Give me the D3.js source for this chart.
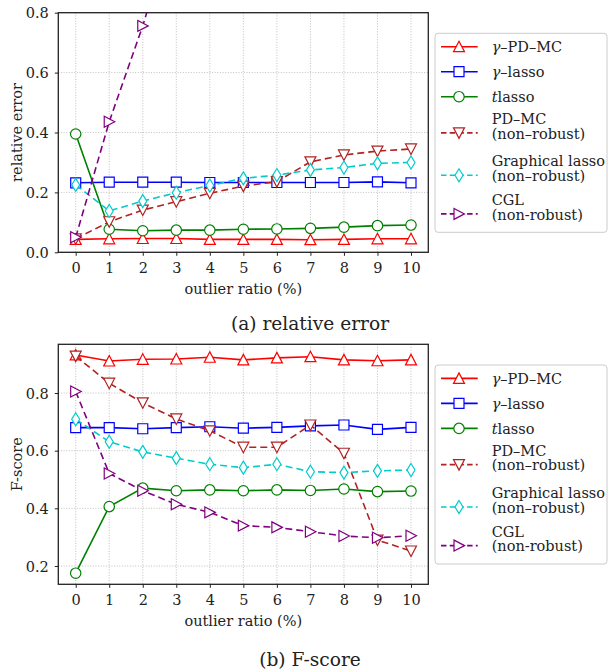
<!DOCTYPE html>
<html>
<head>
<meta charset="utf-8">
<script src="https://cdn.jsdelivr.net/npm/d3@7"></script>
<style>
  body { margin: 0; background: #fff; }
  text { font-family: "DejaVu Serif", serif; fill: #222; }
</style>
</head>
<body>
<svg id="chart" width="610" height="672"></svg>
<script>
// x categories: outlier ratio (%)
var ratios = [0, 1, 2, 3, 4, 5, 6, 7, 8, 9, 10];

// (a) relative error
var errGammaPDMC = [0.043, 0.045, 0.046, 0.046, 0.043, 0.043, 0.043, 0.042, 0.043, 0.045, 0.045];
var errGammaLasso = [0.232, 0.234, 0.234, 0.234, 0.233, 0.233, 0.233, 0.233, 0.233, 0.235, 0.232];
var errTlasso = [0.395, 0.077, 0.072, 0.074, 0.074, 0.077, 0.078, 0.080, 0.084, 0.089, 0.091];
var errPDMC = [0.045, 0.102, 0.141, 0.169, 0.197, 0.221, 0.236, 0.302, 0.325, 0.338, 0.345];
var errGlasso = [0.225, 0.138, 0.171, 0.199, 0.223, 0.247, 0.258, 0.275, 0.283, 0.297, 0.300];
// CGL runs off the top of the axes after 2 %
var errCGL = [0.050, 0.436, 0.756, 1.13, null, null, null, null, null, null, null];

// (b) F-score
var fGammaPDMC = [0.932, 0.911, 0.917, 0.918, 0.924, 0.915, 0.922, 0.926, 0.915, 0.912, 0.915];
var fGammaLasso = [0.680, 0.680, 0.676, 0.680, 0.683, 0.678, 0.681, 0.686, 0.689, 0.674, 0.681];
var fTlasso = [0.175, 0.406, 0.470, 0.461, 0.464, 0.461, 0.464, 0.462, 0.467, 0.458, 0.460];
var fPDMC = [0.928, 0.834, 0.766, 0.710, 0.669, 0.612, 0.612, 0.689, 0.591, 0.290, 0.252];
var fGlasso = [0.709, 0.631, 0.596, 0.574, 0.553, 0.541, 0.553, 0.527, 0.524, 0.530, 0.533];
var fCGL = [0.805, 0.521, 0.461, 0.414, 0.386, 0.340, 0.334, 0.319, 0.304, 0.298, 0.305];

// tick labels
var errTicks = [0.0, 0.2, 0.4, 0.6, 0.8];
var fTicks = [0.2, 0.4, 0.6, 0.8];

// legend names (second line for the non-robust methods)
var seriesNames = [
  ["γ–PD–MC"],
  ["γ–lasso"],
  ["tlasso"],
  ["PD–MC", "(non–robust)"],
  ["Graphical lasso", "(non–robust)"],
  ["CGL", "(non-robust)"]
];

// styles
var styles = [
  { color: "#ff0000", dash: null, marker: "triUp" },
  { color: "#0000ff", dash: null, marker: "square" },
  { color: "#008000", dash: null, marker: "circle" },
  { color: "#b22222", dash: "7,4", marker: "triDown" },
  { color: "#00cccc", dash: "7,4", marker: "diamond" },
  { color: "#800080", dash: "7,4", marker: "triRight" }
];

var markerPaths = {
  triUp: "M0,-5.5L5.5,5L-5.5,5Z",
  triDown: "M0,5.5L5.5,-5L-5.5,-5Z",
  triRight: "M5.5,0L-5,5.5L-5,-5.5Z",
  square: "M-5,-5H5V5H-5Z",
  circle: "M5.2,0A5.2,5.2 0 1,1 -5.2,0A5.2,5.2 0 1,1 5.2,0Z",
  diamond: "M0,-6.5L4,0L0,6.5L-4,0Z"
};

var svg = d3.select("#chart");

var plotLeft = 58.3, plotRight = 428.3;
var serif = "'DejaVu Serif', serif";
var labelSize = "14.5px";

function drawPanel(p) {
  var g = svg.append("g");
  // tick 0 sits at 75.7 px and the ticks are 33.53 px apart
  var x = d3.scaleLinear()
    .domain([(plotLeft - 75.7) / 33.53, (plotRight - 75.7) / 33.53])
    .range([plotLeft, plotRight]);
  var y = d3.scaleLinear().domain(p.yDomain).range([p.bottom, p.top]);

  var clipId = "clip" + p.id;
  svg.append("clipPath").attr("id", clipId)
    .append("rect")
    .attr("x", plotLeft).attr("y", p.top)
    .attr("width", plotRight - plotLeft).attr("height", p.bottom - p.top);

  // grids
  g.append("g").selectAll("line").data(ratios).enter().append("line")
    .attr("x1", d => x(d)).attr("x2", d => x(d))
    .attr("y1", p.top).attr("y2", p.bottom)
    .attr("stroke", "#b0b0b0").attr("stroke-width", 0.8).attr("stroke-dasharray", "1,1.65");
  g.append("g").selectAll("line").data(p.ticks).enter().append("line")
    .attr("x1", plotLeft).attr("x2", plotRight)
    .attr("y1", d => y(d)).attr("y2", d => y(d))
    .attr("stroke", "#b0b0b0").attr("stroke-width", 0.8).attr("stroke-dasharray", "1,1.65");

  // axes
  var xAxis = d3.axisBottom(x).tickValues(ratios).tickSize(3.5).tickPadding(5).tickFormat(d3.format("d"));
  var yAxis = d3.axisLeft(y).tickValues(p.ticks).tickSize(3.5).tickPadding(6).tickFormat(d3.format(".1f"));
  var xg = g.append("g").attr("transform", `translate(0, ${p.bottom})`).call(xAxis);
  var yg = g.append("g").attr("transform", `translate(${plotLeft}, 0)`).call(yAxis);
  [xg, yg].forEach(function(a) {
    a.attr("font-family", serif);
    a.select(".domain").remove();
    a.selectAll("line").attr("stroke", "#222").attr("stroke-width", 1);
    a.selectAll("text").style("font-family", serif).style("font-size", labelSize).attr("fill", "#222");
  });
  xg.selectAll("text").attr("dy", null).attr("y", 21);
  yg.selectAll("text").attr("dy", "0.36em");

  // series
  var line = d3.line()
    .defined(d => d.v !== null)
    .x(d => x(d.r))
    .y(d => y(d.v));
  var plot = g.append("g").attr("clip-path", `url(#${clipId})`);
  p.series.forEach(function(vals, i) {
    var pts = ratios.map((r, k) => ({ r: r, v: vals[k] }));
    var st = styles[i];
    plot.append("path")
      .attr("d", line(pts))
      .attr("fill", "none")
      .attr("stroke", st.color)
      .attr("stroke-width", 1.6)
      .attr("stroke-dasharray", st.dash);
    plot.selectAll(".m" + i).data(pts.filter(d => d.v !== null)).enter().append("path")
      .attr("class", "m" + i)
      .attr("d", markerPaths[st.marker])
      .attr("transform", d => `translate(${x(d.r)}, ${y(d.v)})`)
      .attr("fill", "#fff")
      .attr("stroke", st.color)
      .attr("stroke-width", 1.2);
  });

  // frame
  g.append("rect")
    .attr("x", plotLeft).attr("y", p.top)
    .attr("width", plotRight - plotLeft).attr("height", p.bottom - p.top)
    .attr("fill", "none").attr("stroke", "#222").attr("stroke-width", 1.3);

  // axis labels
  g.append("text")
    .attr("x", (plotLeft + plotRight) / 2).attr("y", p.bottom + 42)
    .attr("text-anchor", "middle").style("font-size", labelSize)
    .text("outlier ratio (%)");
  g.append("text")
    .attr("transform", `translate(22, ${(p.top + p.bottom) / 2}) rotate(-90)`)
    .attr("text-anchor", "middle").style("font-size", labelSize)
    .text(p.yLabel);

  // caption
  g.append("text")
    .attr("x", 310).attr("y", p.captionY)
    .attr("text-anchor", "middle").style("font-size", "18.6px")
    .text(p.caption);

  // legend
  var lg = g.append("g").attr("transform", `translate(435, ${p.legendTop})`);
  lg.append("rect")
    .attr("width", 172).attr("height", 199).attr("rx", 3)
    .attr("fill", "#fff").attr("stroke", "#cccccc").attr("stroke-width", 1);
  var rowY = [13.4, 38.4, 63.4, 99.6, 142, 180.6];
  seriesNames.forEach(function(name, i) {
    var st = styles[i];
    var row = lg.append("g").attr("transform", `translate(0, ${rowY[i]})`);
    row.append("line")
      .attr("x1", 6).attr("x2", 42.7)
      .attr("stroke", st.color).attr("stroke-width", 1.6)
      .attr("stroke-dasharray", st.dash ? "5.5,3.2" : null);
    row.append("path")
      .attr("d", markerPaths[st.marker])
      .attr("transform", "translate(24, 0)")
      .attr("fill", "#fff").attr("stroke", st.color).attr("stroke-width", 1.2);
    if (name.length === 1) {
      var t = row.append("text").attr("x", 56.7).attr("y", 5.3).style("font-size", labelSize);
      if (name[0] === "tlasso") {
        t.append("tspan").attr("font-style", "italic").text("t");
        t.append("tspan").text("lasso");
      } else {
        t.append("tspan").attr("font-style", "italic").text("γ");
        t.append("tspan").text(name[0].slice(1));
      }
    } else {
      row.append("text").attr("x", 56.7).attr("y", -9).style("font-size", labelSize).text(name[0]);
      row.append("text").attr("x", 56.7).attr("y", 5.6).style("font-size", labelSize).text(name[1]);
    }
  });
}

drawPanel({
  id: "a", top: 12.7, bottom: 252.3, yDomain: [0, 0.8], ticks: errTicks,
  series: [errGammaPDMC, errGammaLasso, errTlasso, errPDMC, errGlasso, errCGL],
  yLabel: "relative error", caption: "(a) relative error", captionY: 330, legendTop: 33.3
});

drawPanel({
  id: "b", top: 344.3, bottom: 584.3, yDomain: [0.1365, 0.9690], ticks: fTicks,
  series: [fGammaPDMC, fGammaLasso, fTlasso, fPDMC, fGlasso, fCGL],
  yLabel: "F-score", caption: "(b) F-score", captionY: 666, legendTop: 365
});
</script>
</body>
</html>
